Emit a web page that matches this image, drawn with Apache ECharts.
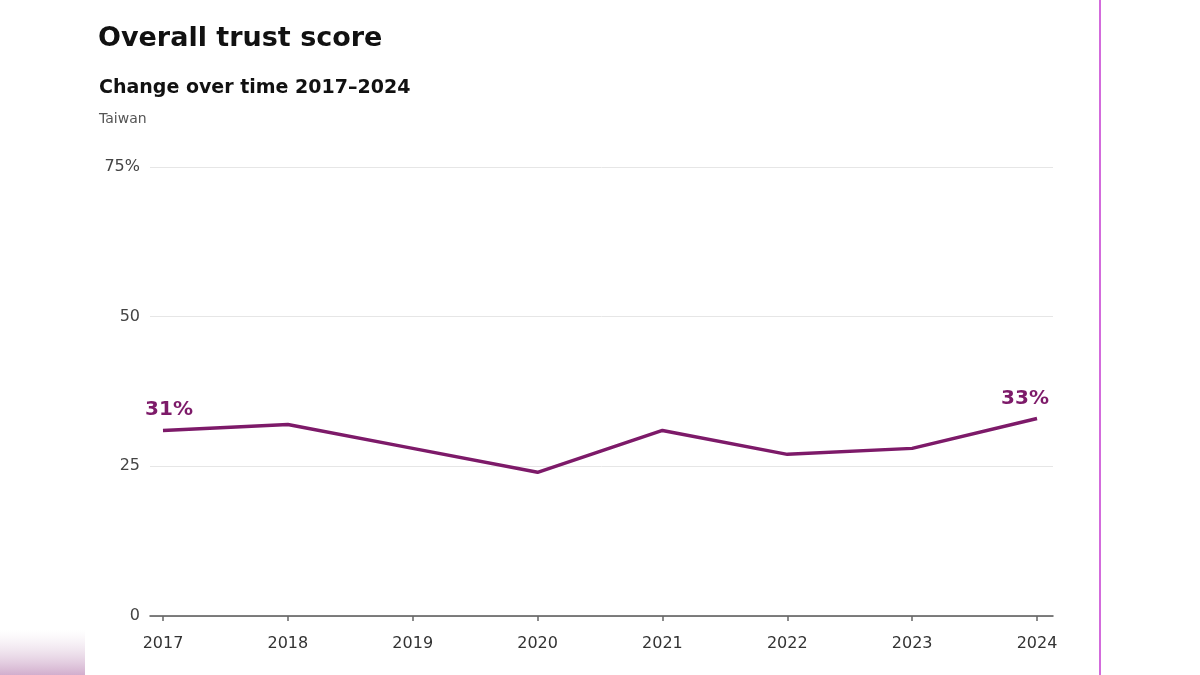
<!DOCTYPE html>
<html><head><meta charset="utf-8">
<script src="https://cdn.jsdelivr.net/npm/echarts@6/dist/echarts.min.js"></script>
<style>html,body{margin:0;padding:0;background:#fff}#c{width:1200px;height:675px}</style>
</head><body><div id="c"></div>
<script>
const years = [2017, 2018, 2019, 2020, 2021, 2022, 2023, 2024];
const trust = [31, 32, 28, 24, 31, 27, 28, 33];
const yTicks = [0, 25, 50, 75];
const labelledYears = [2017, 2024];

const lineColor = '#7d1a69';
const font = '"DejaVu Sans", sans-serif';
const chart = echarts.init(document.getElementById('c'), null, {renderer: 'canvas'});
const seriesData = years.map((y, i) => {
  const item = {value: [y, trust[i]]};
  if (labelledYears.includes(y)) {
    item.label = {
      show: true, position: 'top', formatter: trust[i] + '%',
      offset: y === 2017 ? [6, -6] : [-12, -5]
    };
  }
  return item;
});
chart.setOption({
  backgroundColor: '#fff',
  animation: false,
  title: [
    {text: 'Overall trust score', left: 98, top: 25, padding: 0, textStyle: {fontFamily: font, fontSize: 27, fontWeight: 'bold', color: '#111'}},
    {text: 'Change over time 2017–2024', left: 99, top: 79, padding: 0, textStyle: {fontFamily: font, fontSize: 19, fontWeight: 'bold', color: '#111'}},
    {text: 'Taiwan', left: 99, top: 112, padding: 0, textStyle: {fontFamily: font, fontSize: 14, fontWeight: 'normal', color: '#555'}}
  ],
  graphic: [
    {type: 'rect', left: 0, top: 630, shape: {width: 85, height: 45}, style: {fill: new echarts.graphic.LinearGradient(0, 0, 0, 1, [{offset: 0, color: 'rgba(230,215,228,0)'}, {offset: 1, color: 'rgba(205,165,200,0.9)'}])}, z: -1},
    {type: 'line', shape: {x1: 1100, y1: 0, x2: 1100, y2: 675}, style: {stroke: '#c43ad0', lineWidth: 1.5}}
  ],
  grid: {left: 150, right: 147, top: 167, bottom: 59, containLabel: false},
  xAxis: {
    type: 'value', min: 2016.896, max: 2024.128,
    splitLine: {show: false},
    axisLine: {show: true, lineStyle: {color: '#555', width: 1.5}},
    axisTick: {show: true, customValues: years, length: 5, lineStyle: {color: '#666', width: 1.5}},
    axisLabel: {customValues: years, margin: 20, fontFamily: font, fontSize: 16, color: '#333', formatter: v => String(v)}
  },
  yAxis: {
    type: 'value', min: 0, max: 75, interval: 25,
    axisLine: {show: false}, axisTick: {show: false},
    splitLine: {show: true, lineStyle: {color: '#e6e6e6', width: 1}},
    axisLabel: {margin: 10, fontFamily: font, fontSize: 16, color: '#444',
      formatter: v => v === yTicks[yTicks.length - 1] ? v + '%' : String(v)}
  },
  series: [{
    type: 'line', data: seriesData, symbol: 'circle', symbolSize: 0, showSymbol: true,
    lineStyle: {color: lineColor, width: 3.5},
    itemStyle: {color: lineColor},
    label: {show: false, fontFamily: font, fontSize: 20, fontWeight: 'bold', color: lineColor},
    z: 5
  }]
});
</script></body></html>
